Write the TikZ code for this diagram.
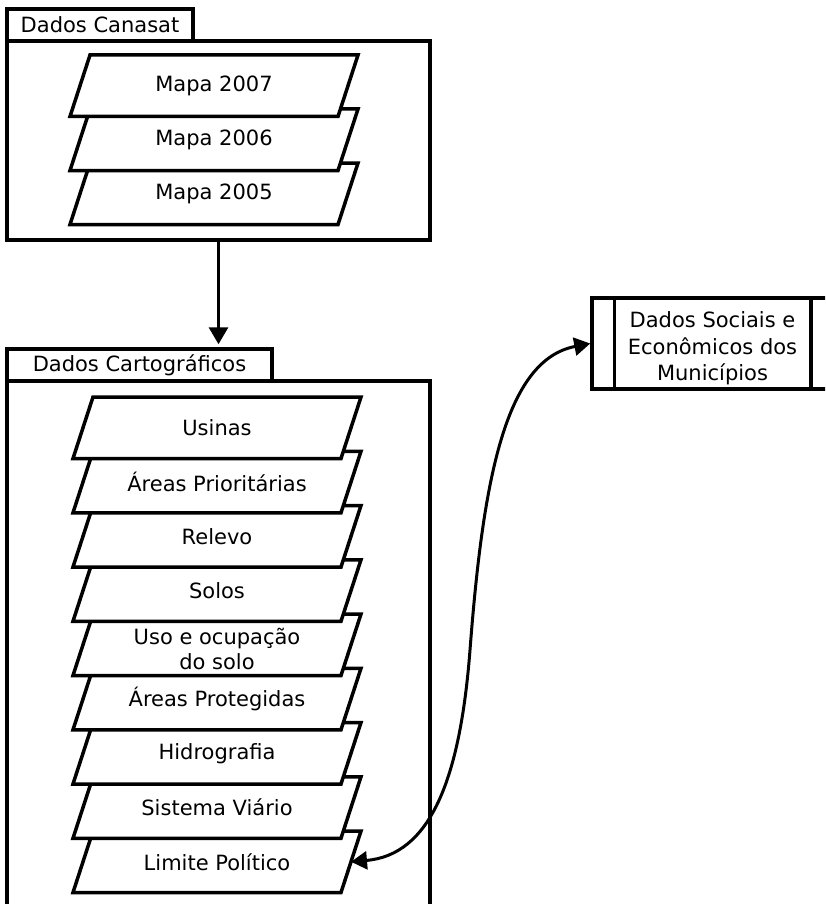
\documentclass[tikz,border=0pt]{standalone}
\usepackage{fontspec}
\setmainfont{DejaVu Sans}
\usetikzlibrary{arrows.meta,calc}
\tikzset{
  boxline/.style={draw=black, line width=1.75pt},
  parastyle/.style={draw=black, fill=white, line width=1.75pt, line join=miter},
  paratext/.style={inner sep=0pt, align=center, font=\fontsize{10.5}{13.4}\selectfont},
  tabbox/.style={boxline, fill=white, inner sep=0pt, minimum height=16pt, font=\fontsize{10.5}{13.4}\selectfont},
  conn/.style={line width=1.6pt, -{Triangle[length=8.5pt,width=9.5pt]}},
  biconn/.style={line width=1.5pt, {Triangle[length=8pt,width=9pt]}-{Triangle[length=8pt,width=9pt]}}
}
% [#1 node options] #2 bottom-left x, #3 top y, #4 name, #5 text
\newcommand\myparallel[5][]{%
  \draw[parastyle] (#2,#3+61.5) -- (#2+20,#3) -- (#2+288,#3) -- (#2+268,#3+61.5) -- cycle;
  \node[paratext,#1] (#4) at (#2+144,#3+30.75) {#5};
  \coordinate (#4-e) at (#2+278,#3+30.75);
}
\begin{document}
\begin{tikzpicture}[x=0.5pt,y=-0.5pt]
\useasboundingbox (0,0) rectangle (825,904);
\clip (0,0) rectangle (825,904);

% Dados Canasat group
\node[boxline, minimum width=211.5pt, minimum height=99.5pt, inner sep=0pt] (canbox) at (218.5,140.5) {};
\node[tabbox, minimum width=93pt] (cantab) at (100,25) {Dados Canasat};
\myparallel{70}{163}{m2005}{Mapa 2005}
\myparallel{70}{109}{m2006}{Mapa 2006}
\myparallel{70}{55}{m2007}{Mapa 2007}

% Dados Cartograficos group
\node[boxline, minimum width=211.5pt, minimum height=279.5pt, inner sep=0pt] (cartbox) at (218.5,660.5) {};
\node[tabbox, minimum width=132.5pt] (carttab) at (139.5,365) {Dados Cartográficos};
\myparallel{73}{831}{lim}{Limite Político}
\myparallel{73}{776.75}{sis}{Sistema Viário}
\myparallel{73}{722.5}{hid}{Hidrografia}
\myparallel{73}{668.25}{apr}{Áreas Protegidas}
\myparallel[yshift=-2.2pt, font=\fontsize{10.5}{12.8}\selectfont]{73}{614}{uso}{Uso e ocupação\\do solo}
\myparallel{73}{559.75}{sol}{Solos}
\myparallel{73}{505.5}{rel}{Relevo}
\myparallel{73}{451.25}{are}{Áreas Prioritárias}
\myparallel{73}{397}{usi}{Usinas}

% Dados Sociais e Economicos
\node[boxline, minimum width=120.5pt, minimum height=45.5pt, inner sep=0pt] (soc) at (712.5,343.5) {};
\node[paratext, font=\fontsize{10.5}{13.3}\selectfont] (soctext) at ([yshift=-2.5pt]soc.center)
      {Dados Sociais e\\Econômicos dos\\Municípios};
\draw[line width=1.75pt] ([xshift=12pt]soc.north west) -- ([xshift=12pt]soc.south west);
\draw[line width=1.75pt] ([xshift=-12pt]soc.north east) -- ([xshift=-12pt]soc.south east);

% connectors
\draw[conn, shorten >=1.5pt] (canbox.south) -- (canbox.south |- carttab.north);
\coordinate (mid) at (470,650);
\draw[biconn] (lim-e) .. controls (430,855) and (460,780) .. (mid)
   .. controls (483,480) and (505,360) .. (soc.west);
\end{tikzpicture}
\end{document}
